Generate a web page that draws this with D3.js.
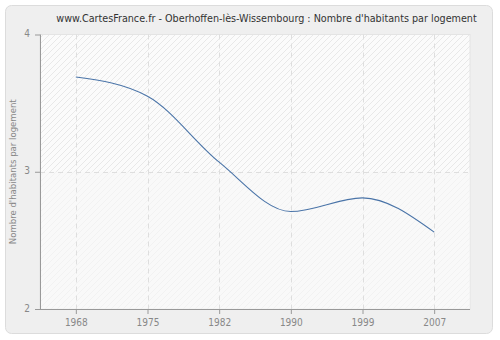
<!DOCTYPE html>
<html><head><meta charset="utf-8">
<script src="https://cdn.jsdelivr.net/npm/d3@7"></script>
<style>body{margin:0;background:#fff}svg{display:block}text{font-family:"DejaVu Sans Condensed","DejaVu Sans",Verdana,sans-serif;font-stretch:condensed}</style>
</head><body><svg id="c" width="500" height="340"></svg>
<script>
const years = ["1968","1975","1982","1990","1999","2007"];
const values = [3.69, 3.55, 3.07, 2.71, 2.81, 2.56];
const yTicks = [2, 3, 4];
const title = "www.CartesFrance.fr - Oberhoffen-lès-Wissembourg : Nombre d'habitants par logement";
const yLabel = "Nombre d'habitants par logement";

const svg = d3.select("#c");
const m = {l:40, r:470, t:34.5, b:309};
svg.append("rect").attr("x",5.5).attr("y",5.5).attr("width",487).attr("height",328)
  .attr("rx",6).attr("fill","#efefef").attr("stroke","#dcdcdc");

const defs = svg.append("defs");
const pat = defs.append("pattern").attr("id","hatch").attr("patternUnits","userSpaceOnUse")
  .attr("width",6).attr("height",6);
pat.append("rect").attr("width",6).attr("height",6).attr("fill","#fbfbfb");
pat.append("path").attr("d","M-1,1 l2,-2 M0,6 l6,-6 M5,7 l2,-2").attr("stroke","#e8e8e8").attr("stroke-width",1);

const x = d3.scalePoint().domain(years).range([m.l, m.r]).padding(0.5);
const y = d3.scaleLinear().domain([2,4]).range([m.b, m.t]);

svg.append("rect").attr("x",m.l).attr("y",m.t).attr("width",m.r-m.l).attr("height",m.b-m.t)
  .attr("fill","url(#hatch)").attr("stroke","#e4e4e4");
svg.append("rect").attr("x",m.l).attr("y",y(3)).attr("width",m.r-m.l).attr("height",m.b-y(3))
  .attr("fill","#f8f8f8").attr("opacity",0.6);

// grid
const g = svg.append("g").attr("stroke","#dedede").attr("stroke-dasharray","5,4").attr("fill","none");
years.forEach(d=>g.append("line").attr("x1",Math.round(x(d))+0.5).attr("x2",Math.round(x(d))+0.5).attr("y1",m.t).attr("y2",m.b));
yTicks.slice(1,-1).forEach(v=>g.append("line").attr("x1",m.l).attr("x2",m.r).attr("y1",Math.round(y(v))+0.5).attr("y2",Math.round(y(v))+0.5));

// axes
const xa = svg.append("g").attr("transform",`translate(0,${m.b})`)
  .call(d3.axisBottom(x).tickSize(5).tickPadding(5));
const ya = svg.append("g").attr("transform",`translate(${m.l},0)`)
  .call(d3.axisLeft(y).tickValues(yTicks).tickFormat(d3.format("d")).tickSize(5).tickPadding(5));
[xa,ya].forEach(a=>{
  a.selectAll("path,line").attr("stroke","#999");
  a.selectAll("text").attr("fill","#888").style("font-size","10px");
  a.select(".domain").attr("stroke","#999");
});
ya.selectAll("text").attr("dy","0.2em");
xa.select(".domain").attr("d",`M${m.l},0.5H${m.r}`);
ya.select(".domain").attr("d",`M0.5,${m.t}V${m.b}`);

// line
svg.append("path").datum(values)
  .attr("d", d3.line().x((d,i)=>x(years[i])).y(d=>y(d)).curve(d3.curveMonotoneX))
  .attr("fill","none").attr("stroke","#4a74a8").attr("stroke-width",1.1);

svg.append("text").attr("x",266.5).attr("y",21.5).attr("text-anchor","middle")
  .attr("fill","#333").style("font-size","10.7px").text(title);
svg.append("text").attr("transform",`translate(16,${(m.t+m.b)/2}) rotate(-90)`)
  .attr("text-anchor","middle").attr("fill","#888").style("font-size","9.5px").text(yLabel);
</script></body></html>
